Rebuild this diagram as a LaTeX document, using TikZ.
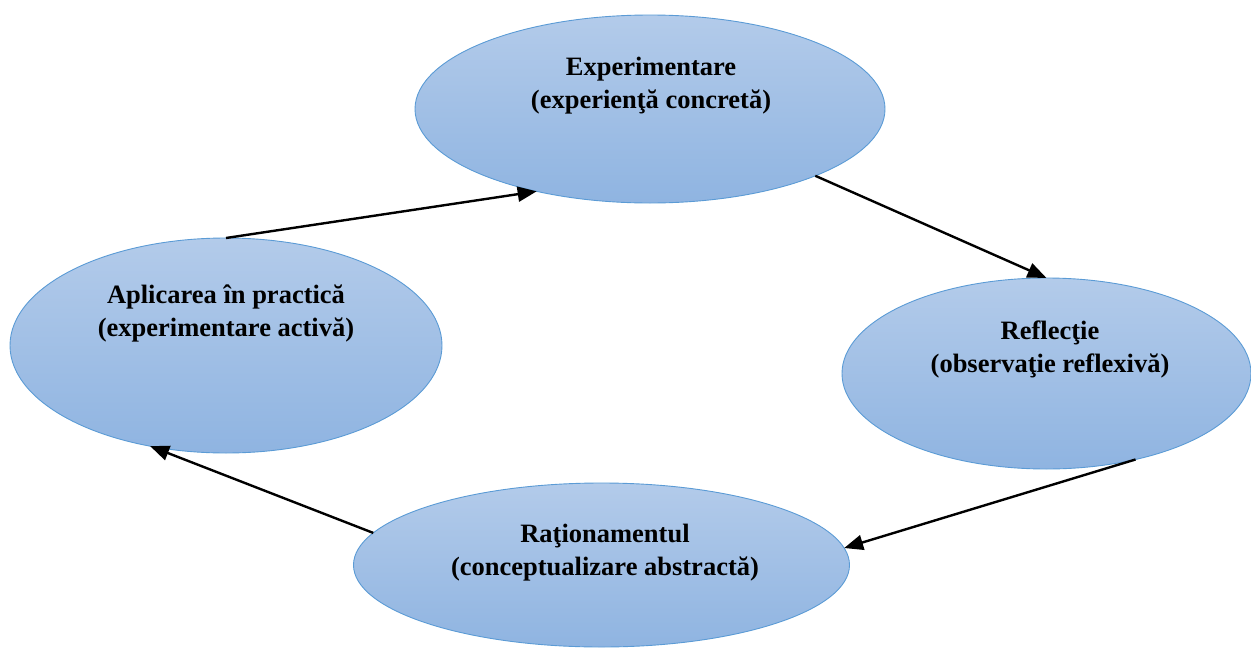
\documentclass[tikz,border=0pt]{standalone}
\usepackage{fontspec}
\setmainfont{Liberation Serif}
\usetikzlibrary{shapes.geometric,arrows.meta}
\definecolor{elltop}{HTML}{B3CBEA}
\definecolor{ellbot}{HTML}{8FB4E1}
\definecolor{elledge}{HTML}{5B9BD5}
\tikzset{
  ell/.style={ellipse, draw=elledge, line width=0.9pt, top color=elltop, bottom color=ellbot, inner sep=0pt, outer sep=0pt},
  lbl/.style={align=center, anchor=base, inner sep=0pt, font=\bfseries\fontsize{26.5}{33}\selectfont},
  conn/.style={line width=2.4pt, -{Triangle[length=19pt,width=15pt]}}
}
\begin{document}
\begin{tikzpicture}[x=1pt,y=-1pt]
\useasboundingbox (0,0) rectangle (1251,648);
\node[ell, minimum width=470pt, minimum height=188pt] (top) at (650,109) {};
\node[ell, minimum width=432pt, minimum height=215pt] (left) at (226,345.5) {};
\node[ell, minimum width=409pt, minimum height=191pt] (right) at (1046.5,373.5) {};
\node[ell, minimum width=496pt, minimum height=164pt] (bot) at (601.5,565) {};
\node[lbl] (ttop) at (651,108) {Experimentare\\(experienţă concretă)};
\node[lbl] (tleft) at (226,336) {Aplicarea în practică\\(experimentare activă)};
\node[lbl] (tright) at (1050,372) {Reflecţie\\(observaţie reflexivă)};
\node[lbl] (tbot) at (605,575) {Raţionamentul\\(conceptualizare abstractă)};
\draw[conn] (left.north) -- (top.216.6);
\draw[conn] (top.338.4) -- (right.north);
\draw[conn] (right.316) -- (bot.4.3);
\draw[conn] (bot.172.6) -- (left.233.7);
\end{tikzpicture}
\end{document}
